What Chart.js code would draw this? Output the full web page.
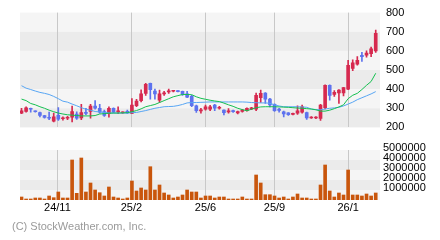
<!DOCTYPE html>
<html>
<head>
<meta charset="utf-8">
<script src="https://cdn.jsdelivr.net/npm/chart.js@4.4.1/dist/chart.umd.min.js"></script>
<style>
  html, body { margin: 0; padding: 0; background: #fff; }
  body { width: 440px; height: 240px; position: relative; overflow: hidden; }
  #price { position: absolute; left: 0; top: 0; }
  #volume { position: absolute; left: 0; top: 140px; }
  #copy { position: absolute; left: 12px; top: 220px; font: 11px 'Liberation Sans', Arial, sans-serif; line-height: 13px; color: #9a9a9a; white-space: nowrap; }
</style>
</head>
<body>
<canvas id="price" width="440" height="140"></canvas>
<canvas id="volume" width="440" height="100"></canvas>
<div id="copy">(C) StockWeather.com, Inc.</div>
<script>
// weekly candles, oldest first
const tickIndex = [7.8, 23.9, 40, 55, 71];
const tickLabels = ['24/11', '25/2', '25/6', '25/9', '26/1'];

const opens  = [275, 283, 300, 285, 278, 262, 252, 233, 263, 245, 248, 253, 270, 250, 278, 283, 312, 300, 283, 272,
                300, 281, 276, 284, 273, 313, 340, 378, 430, 390, 342, 375, 386, 389, 391, 388, 375, 363, 313, 286,
                295, 295, 317, 300, 290, 281, 288, 276, 284, 288, 296, 295, 355, 380, 348, 320, 296, 282, 276, 268,
                275, 280, 278, 249, 249, 247, 303, 420, 372, 380, 380, 400, 508, 530, 577, 577, 585, 600];
const highs  = [300, 307, 301, 287, 280, 263, 280, 275, 303, 255, 258, 312, 282, 320, 300, 320, 340, 320, 290, 307,
                302, 307, 282, 290, 350, 347, 397, 430, 432, 400, 395, 388, 400, 392, 393, 390, 388, 367, 317, 300,
                317, 315, 320, 310, 292, 298, 290, 285, 295, 302, 305, 380, 395, 382, 352, 323, 300, 285, 278, 275,
                313, 317, 280, 256, 256, 320, 422, 422, 392, 398, 410, 550, 553, 570, 592, 600, 620, 708];
const lows   = [272, 280, 280, 280, 255, 248, 240, 228, 237, 238, 240, 228, 242, 240, 267, 248, 295, 275, 257, 253,
                276, 272, 273, 273, 272, 308, 333, 367, 347, 347, 330, 367, 378, 386, 385, 367, 355, 308, 278, 275,
                290, 288, 287, 295, 265, 275, 278, 270, 280, 285, 293, 287, 330, 325, 307, 283, 280, 255, 262, 265,
                268, 275, 242, 247, 246, 237, 297, 342, 362, 325, 365, 397, 497, 525, 545, 567, 570, 592];
const closes = [287, 302, 295, 282, 262, 252, 248, 255, 243, 249, 252, 283, 248, 278, 273, 312, 300, 280, 263, 300,
                280, 285, 279, 276, 317, 337, 375, 425, 397, 375, 375, 380, 390, 391, 387, 372, 358, 313, 287, 290,
                307, 308, 300, 305, 277, 287, 282, 283, 291, 300, 302, 367, 378, 347, 318, 288, 289, 270, 266, 272,
                287, 308, 250, 254, 253, 317, 420, 367, 383, 395, 408, 525, 537, 550, 570, 588, 610, 692];

const maShort = [348, 340, 325, 318, 308, 300, 290, 282, 275, 270, 266, 264, 262, 260, 260, 260, 262, 270, 272, 274,
                 275, 275, 276, 277, 282, 288, 297, 308, 314, 320, 330, 340, 350, 360, 366, 372, 372, 371, 360, 352,
                 347, 342, 338, 335, 327, 318, 310, 300, 293, 287, 295, 303, 307, 308, 308, 308, 307, 306, 305, 303,
                 301, 300, 298, 296, 292, 285, 285, 290, 298, 307, 318, 350, 368, 378, 398, 420, 440, 483];
const maLong  = [418, 405, 398, 390, 383, 378, 372, 362, 350, 337, 332, 322, 313, 303, 295, 290, 283, 281, 278, 276,
                 275, 275, 275, 275, 277, 278, 283, 288, 294, 300, 304, 308, 309, 310, 314, 320, 328, 330, 330, 331,
                 332, 333, 333, 333, 333, 333, 333, 333, 333, 332, 330, 329, 328, 328, 326, 318, 312, 308, 308, 308,
                 308, 307, 305, 296, 293, 292, 296, 300, 302, 305, 312, 322, 332, 345, 355, 365, 375, 387];

const volumes = [300000, 100000, 100000, 200000, 200000, 100000, 400000, 230000, 800000, 200000,
                 200000, 4000000, 670000, 4200000, 800000, 1700000, 1000000, 730000, 400000, 1300000,
                 300000, 200000, 100000, 200000, 1900000, 900000, 1200000, 1000000, 3330000, 1000000,
                 1500000, 700000, 500000, 200000, 300000, 500000, 1000000, 800000, 800000, 200000,
                 400000, 400000, 200000, 300000, 300000, 100000, 100000, 100000, 300000, 100000,
                 100000, 2500000, 1700000, 530000, 530000, 400000, 200000, 300000, 100000, 300000,
                 600000, 200000, 200000, 100000, 100000, 1500000, 3500000, 900000, 300000, 700000,
                 500000, 3000000, 500000, 500000, 400000, 600000, 400000, 700000];

Chart.defaults.font.family = "'Liberation Sans', Arial, sans-serif";
Chart.defaults.font.size = 11;
Chart.defaults.color = '#000';

const upColor = '#d6294f';
const downColor = '#5d72ee';

const idx = opens.map((o, i) => i);
const candleColors = opens.map((o, i) => closes[i] >= o ? upColor : downColor);

// alternating grey bands between the y ticks, top band light
const bands = {
    id: 'bands',
    beforeDraw(chart) {
        const ctx = chart.ctx;
        const area = chart.chartArea;
        const y = chart.scales.y;
        const vals = y.ticks.map(t => t.value).sort((a, b) => b - a);

        ctx.save();
        for (let i = 0; i < vals.length - 1; i++) {
            const top = y.getPixelForValue(vals[i]);
            const bottom = y.getPixelForValue(vals[i + 1]);
            ctx.fillStyle = i % 2 ? '#ebebeb' : '#f5f5f5';
            ctx.fillRect(area.left, top, area.right - area.left, bottom - top);
        }
        ctx.restore();
    }
};

const xAxis = (showLabels) => ({
    type: 'linear',
    min: -0.33,
    max: 77.93,
    offset: false,
    afterBuildTicks: (axis) => {
        axis.ticks = tickIndex.map(v => ({value: v}));
    },
    afterFit: (axis) => {
        axis.height = showLabels ? 40 : 0;
    },
    grid: {color: '#c8c8c8', drawTicks: false, offset: false},
    border: {display: false},
    ticks: {
        display: showLabels,
        maxRotation: 0,
        autoSkip: false,
        padding: 1,
        callback: (v, i) => tickLabels[i]
    }
});

const yAxis = (min, max, step, pad, shift) => ({
    position: 'right',
    min: min,
    max: max,
    afterFit: (axis) => { axis.width = 60; },
    grid: {display: false, drawTicks: false},
    border: {display: false},
    ticks: {
        stepSize: step,
        autoSkip: false,
        padding: pad,
        labelOffset: shift,
        callback: (v) => v === 0 ? '' : String(v)
    }
});

const baseOptions = {
    responsive: false,
    animation: false,
    events: [],
    plugins: {
        legend: {display: false},
        tooltip: {enabled: false}
    }
};

new Chart(document.getElementById('price'), {
    type: 'bar',
    data: {
        datasets: [
            {
                type: 'line',
                data: idx.map(i => ({x: i, y: maShort[i]})),
                borderColor: '#14c050',
                borderWidth: 1,
                pointRadius: 0,
                tension: 0,
                order: 0
            },
            {
                type: 'line',
                data: idx.map(i => ({x: i, y: maLong[i]})),
                borderColor: '#58a6f4',
                borderWidth: 1,
                pointRadius: 0,
                tension: 0,
                order: 0
            },
            {
                data: idx.map(i => ({x: i, y: [opens[i], closes[i]]})),
                backgroundColor: candleColors,
                barThickness: 3,
                minBarLength: 1,
                grouped: false,
                order: 1
            },
            {
                data: idx.map(i => ({x: i, y: [lows[i], highs[i]]})),
                backgroundColor: candleColors,
                barThickness: 1,
                grouped: false,
                order: 2
            }
        ]
    },
    options: {
        ...baseOptions,
        layout: {padding: {left: 20, top: 10, bottom: 10, right: 0}},
        scales: {
            x: xAxis(false),
            y: yAxis(200, 800, 100, 6, 0)
        }
    },
    plugins: [bands]
});

new Chart(document.getElementById('volume'), {
    type: 'bar',
    data: {
        datasets: [{
            data: idx.map(i => ({x: i, y: volumes[i]})),
            backgroundColor: '#c9560c',
            barThickness: 3
        }]
    },
    options: {
        ...baseOptions,
        layout: {padding: {left: 20, top: 10, bottom: 0, right: 0}},
        scales: {
            x: xAxis(true),
            y: yAxis(0, 5000000, 1000000, 3, -2)
        }
    },
    plugins: [bands]
});
</script>
</body>
</html>
